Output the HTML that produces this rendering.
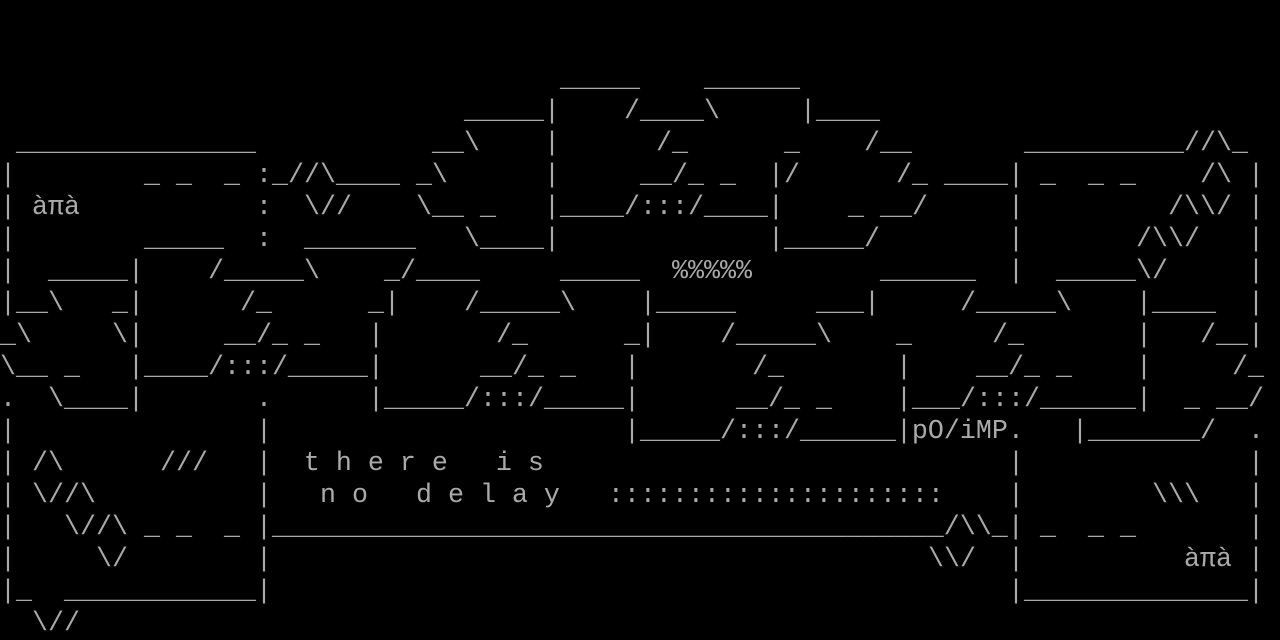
<!DOCTYPE html>
<html><head><meta charset="utf-8"><style>
html,body{margin:0;padding:0;background:#000;width:1280px;height:640px;overflow:hidden}
#c{position:relative;width:1280px;height:640px}
#c div{position:absolute;left:0;width:1280px;height:32px}
#c span{position:absolute;top:0;white-space:pre;font-family:"Liberation Mono","DejaVu Sans Mono",monospace;font-size:26.667px;line-height:32px;color:#aaa}
</style></head><body><div id="c">
<div style="top:64px"><span style="left:560px">_____</span><span style="left:704px">______</span></div>
<div style="top:96px"><span style="left:464px">_____|</span><span style="left:624px">/____\</span><span style="left:800px">|____</span></div>
<div style="top:128px"><span style="left:16px">_______________</span><span style="left:432px">__\</span><span style="left:544px">|</span><span style="left:656px">/_</span><span style="left:784px">_</span><span style="left:864px">/__</span><span style="left:1024px">__________//\_</span></div>
<div style="top:160px"><span style="left:0px">|</span><span style="left:144px">_ _  _ :_//\____ _\</span><span style="left:544px">|</span><span style="left:640px">__/_ _</span><span style="left:768px">|/</span><span style="left:896px">/_ ____|</span><span style="left:1040px">_  _ _</span><span style="left:1200px">/\ |</span></div>
<div style="top:192px"><span style="left:0px">| àπà</span><span style="left:256px">:  \//</span><span style="left:416px">\__ _   |____/:::/____|</span><span style="left:848px">_ __/</span><span style="left:1008px">|</span><span style="left:1168px">/\\/ |</span></div>
<div style="top:224px"><span style="left:0px">|</span><span style="left:144px">_____</span><span style="left:256px">:  _______</span><span style="left:464px">\____|</span><span style="left:768px">|_____/</span><span style="left:1008px">|</span><span style="left:1136px">/\\/   |</span></div>
<div style="top:256px"><span style="left:0px">|  _____|</span><span style="left:208px">/_____\</span><span style="left:384px">_/____</span><span style="left:560px">_____</span><span style="left:672px">%%%%%</span><span style="left:880px">______</span><span style="left:1008px">|  _____\/</span><span style="left:1248px">|</span></div>
<div style="top:288px"><span style="left:0px">|__\   _|</span><span style="left:240px">/_</span><span style="left:368px">_|</span><span style="left:464px">/_____\</span><span style="left:640px">|_____</span><span style="left:816px">___|</span><span style="left:960px">/_____\</span><span style="left:1136px">|____</span><span style="left:1248px">|</span></div>
<div style="top:320px"><span style="left:0px">_\     \|</span><span style="left:224px">__/_ _</span><span style="left:368px">|</span><span style="left:496px">/_</span><span style="left:624px">_|</span><span style="left:720px">/_____\</span><span style="left:896px">_</span><span style="left:992px">/_</span><span style="left:1136px">|</span><span style="left:1200px">/__|</span></div>
<div style="top:352px"><span style="left:0px">\__ _   |____/:::/_____|</span><span style="left:480px">__/_ _</span><span style="left:624px">|</span><span style="left:752px">/_</span><span style="left:896px">|</span><span style="left:976px">__/_ _</span><span style="left:1136px">|</span><span style="left:1232px">/_</span></div>
<div style="top:384px"><span style="left:0px">.  \____|</span><span style="left:256px">.</span><span style="left:368px">|_____/:::/_____|</span><span style="left:736px">__/_ _</span><span style="left:896px">|___/:::/______|</span><span style="left:1184px">_ __/</span></div>
<div style="top:416px"><span style="left:0px">|</span><span style="left:256px">|</span><span style="left:624px">|_____/:::/______|pO/iMP.</span><span style="left:1072px">|_______/  .</span></div>
<div style="top:448px"><span style="left:0px">| /\      ///   |  t h e r e   i s</span><span style="left:1008px">|              |</span></div>
<div style="top:480px"><span style="left:0px">| \//\</span><span style="left:256px">|   n o   d e l a y   :::::::::::::::::::::</span><span style="left:1008px">|</span><span style="left:1152px">\\\</span><span style="left:1248px">|</span></div>
<div style="top:512px"><span style="left:0px">|   \//\ _ _  _ |__________________________________________/\\_|</span><span style="left:1040px">_  _ _</span><span style="left:1248px">|</span></div>
<div style="top:544px"><span style="left:0px">|     \/</span><span style="left:256px">|</span><span style="left:928px">\\/  |</span><span style="left:1184px">àπà |</span></div>
<div style="top:576px"><span style="left:0px">|_  ____________|</span><span style="left:1008px">|______________|</span></div>
<div style="top:608px"><span style="left:32px">\//</span></div>
</div></body></html>
